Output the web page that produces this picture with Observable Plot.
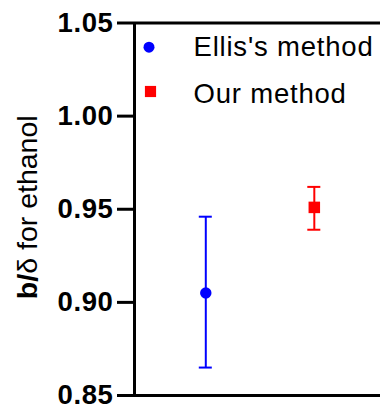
<!DOCTYPE html>
<html><head><meta charset="utf-8">
<script src="https://cdn.jsdelivr.net/npm/d3@7"></script>
<script src="https://cdn.jsdelivr.net/npm/@observablehq/plot@0.6"></script>
<style>
html,body{margin:0;padding:0;background:#fff;}
</style>
</head><body><div id="chart"></div>
<script>
const methods = ["Ellis's method", "Our method"];
const xPos = [1, 2];
const means = [0.905, 0.951];
const lower = [0.865, 0.939];
const upper = [0.946, 0.962];
const colors = ["#0000ff", "#ff0000"];
const symbols = ["circle", "square"];
const yTicks = [0.85, 0.90, 0.95, 1.00, 1.05];
const yLabel = "b/δ for ethanol";

const data = methods.map((m, i) => ({method: m, x: xPos[i], mean: means[i], lo: lower[i], hi: upper[i], color: colors[i], symbol: symbols[i]}));
const xDomain = [0.343, 2.61];
const yDomain = [0.85, 1.05];
const capHalf = 0.06;
const font = "'Liberation Sans', Arial, sans-serif";
const markerR = {circle: 5.7, square: 6.5};
const legendMarker = [{dx: 14.5, dy: 24.2}, {dx: 16, dy: 68.5}];
const legendText = [{dx: 59, dy: 24.5}, {dx: 59, dy: 71}];

const plot = Plot.plot({
  width: 380, height: 409,
  marginLeft: 134, marginRight: 0, marginTop: 22.5, marginBottom: 14,
  style: {fontFamily: font, color: "#000", background: "#fff", overflow: "visible"},
  x: {domain: xDomain, axis: null},
  y: {domain: yDomain, axis: null},
  marks: [
    Plot.axisY({ticks: yTicks, tickFormat: ".2f", tickSize: 17, tickPadding: 4, strokeWidth: 3, fontSize: 27.5, fontWeight: "bold", label: null, fill: "#000", stroke: "#000"}),
    Plot.ruleY(yDomain, {stroke: "#000", strokeWidth: 3}),
    Plot.ruleX([xDomain[0]], {stroke: "#000", strokeWidth: 3}),
    ...data.map(d => Plot.ruleX([d], {x: "x", y1: "lo", y2: "hi", stroke: d.color, strokeWidth: 2})),
    ...data.map(d => Plot.ruleY([d.lo, d.hi], {y: v => v, x1: d.x - capHalf, x2: d.x + capHalf, stroke: d.color, strokeWidth: 2})),
    ...data.map(d => Plot.dot([d], {x: "x", y: "mean", symbol: d.symbol, fill: d.color, stroke: "none", r: markerR[d.symbol]})),
    ...data.map((d, i) => Plot.dot([d], {frameAnchor: "top-left", dx: legendMarker[i].dx, dy: legendMarker[i].dy, symbol: d.symbol, fill: d.color, stroke: "none", r: markerR[d.symbol] - 0.2})),
    ...data.map((d, i) => Plot.text([d.method], {frameAnchor: "top-left", dx: legendText[i].dx, dy: legendText[i].dy, textAnchor: "start", lineAnchor: "middle", fontSize: 27.5, fill: "#000"})),
    Plot.text([yLabel], {frameAnchor: "left", rotate: -90, dx: -107, dy: -2, textAnchor: "middle", lineAnchor: "middle", fontSize: 28.5, fill: "#000"})
  ]
});
document.getElementById("chart").appendChild(plot);

const svg = d3.select(plot);
svg.selectAll("text").each(function() {
  const t = d3.select(this);
  const txt = this.textContent;
  if (txt === yLabel) {
    t.text(null);
    t.append("tspan").attr("font-weight", "bold").text(txt.slice(0, 2));
    t.append("tspan").attr("font-weight", "normal").text(txt.slice(2));
  } else if (methods.includes(txt)) {
    t.attr("letter-spacing", "0.8px");
  } else if (yTicks.map(v => v.toFixed(2)).includes(txt)) {
    t.attr("letter-spacing", "0.6px");
  }
});
</script>
</body></html>
